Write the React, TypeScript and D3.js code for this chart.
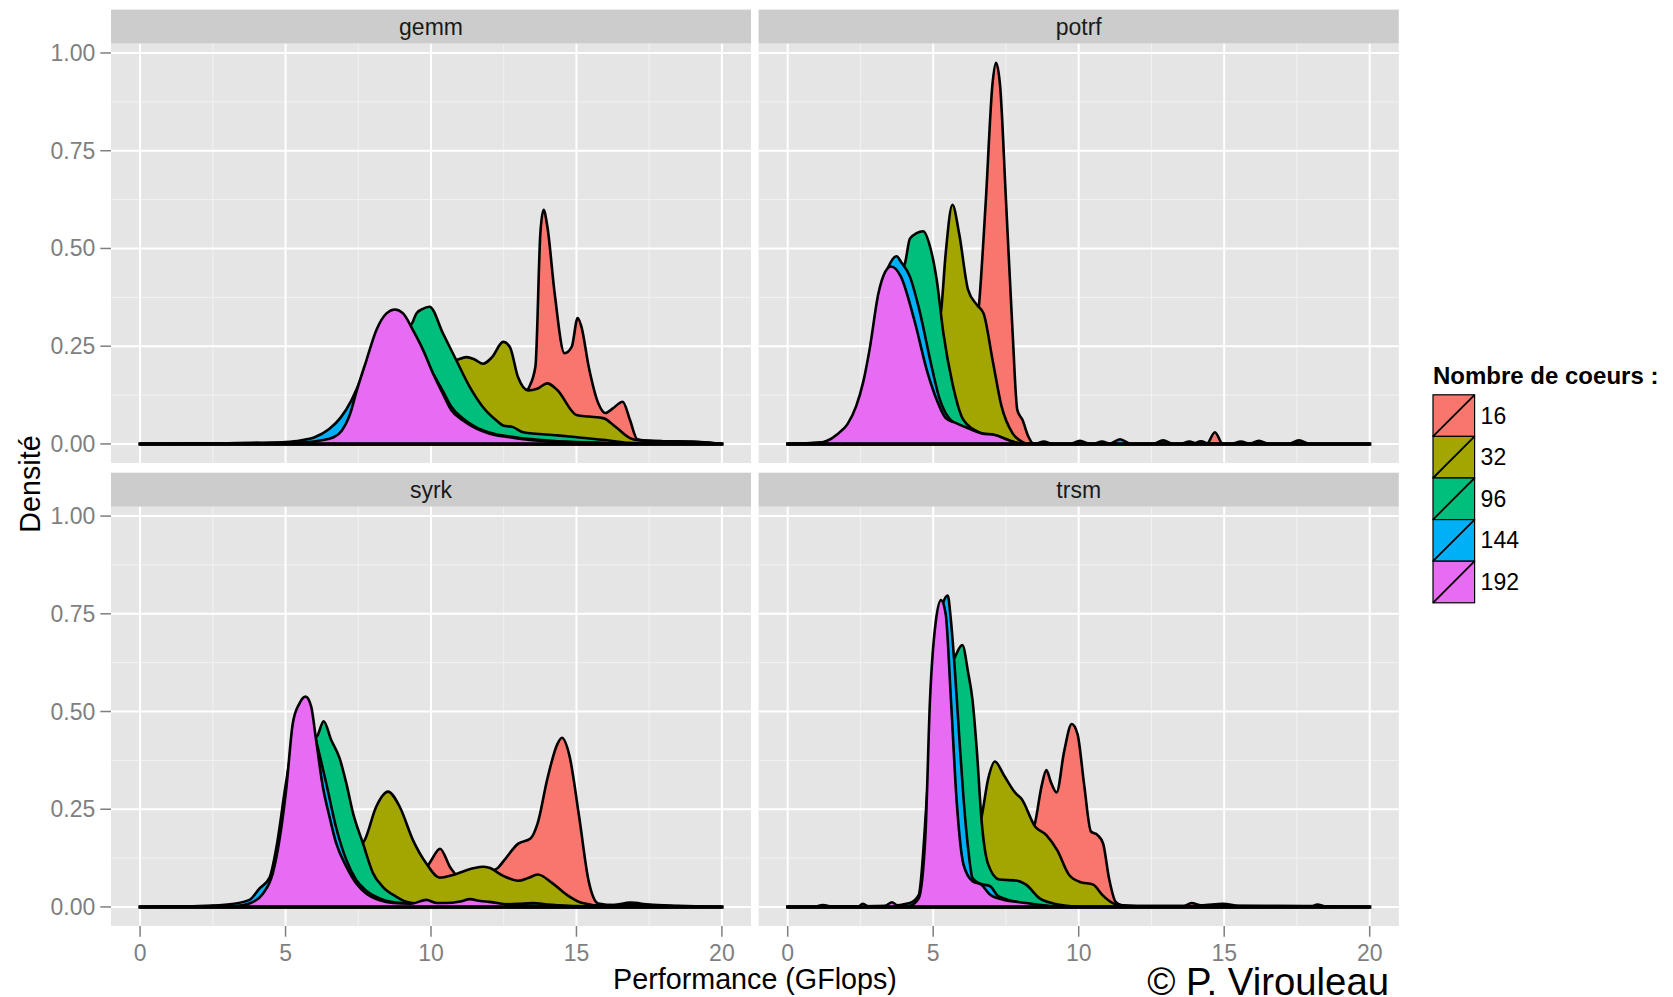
import React from 'react';
import * as d3 from 'd3';

type Pt = [number, number];

const cores = ['16', '32', '96', '144', '192'];
const fills = ['#F8766D', '#A3A500', '#00BF7D', '#00B0F6', '#E76BF3'];
const kernels = ['gemm', 'potrf', 'syrk', 'trsm'];
const xTicks = [0, 5, 10, 15, 20];
const xMinor = [2.5, 7.5, 12.5, 17.5];
const yTicks = [0, 0.25, 0.5, 0.75, 1];
const yMinor = [0.125, 0.375, 0.625, 0.875];
const yTickLabels = ['0.00', '0.25', '0.50', '0.75', '1.00'];

// densities, [GFlops, density]
const gemm16: Pt[] = [[0, 0], [9, 0.005], [10, 0.01], [11, 0.02], [12, 0.05], [13, 0.11], [13.34, 0.14], [13.59, 0.198], [13.76, 0.54], [13.87, 0.599], [14.0, 0.556], [14.25, 0.386], [14.59, 0.232], [14.84, 0.249], [15.04, 0.322], [15.17, 0.3], [15.42, 0.198], [15.75, 0.104], [16.0, 0.079], [16.25, 0.091], [16.59, 0.108], [16.84, 0.061], [17.09, 0.012], [17.5, 0.008], [18, 0.007], [19, 0.006], [19.6, 0.003], [20, 0]];
const gemm32: Pt[] = [[0, 0], [6, 0.003], [7, 0.015], [8, 0.06], [9, 0.12], [10, 0.175], [10.5, 0.2], [10.93, 0.216], [11.22, 0.222], [11.5, 0.216], [11.79, 0.205], [12.1, 0.222], [12.48, 0.261], [12.71, 0.248], [12.99, 0.171], [13.34, 0.137], [13.67, 0.142], [14.0, 0.155], [14.34, 0.138], [15.0, 0.074], [15.42, 0.07], [15.92, 0.066], [16.34, 0.044], [16.84, 0.015], [17.17, 0.009], [18, 0.007], [19, 0.005], [19.6, 0.003], [20, 0]];
const gemm96: Pt[] = [[0, 0], [5, 0.003], [6, 0.01], [7, 0.05], [7.5, 0.09], [8, 0.15], [8.5, 0.22], [9, 0.28], [9.36, 0.31], [9.5, 0.334], [9.7, 0.345], [9.95, 0.351], [10.41, 0.283], [10.87, 0.214], [11.33, 0.146], [11.79, 0.094], [12.25, 0.06], [12.48, 0.047], [12.82, 0.043], [13.17, 0.03], [14.34, 0.022], [15.17, 0.016], [16.0, 0.01], [16.8, 0.003], [18, 0.001], [20, 0]];
const gemm144: Pt[] = [[0, 0], [4, 0.002], [5, 0.005], [5.5, 0.009], [6, 0.017], [6.5, 0.038], [6.9, 0.068], [7.26, 0.111], [7.5, 0.15], [8, 0.24], [8.5, 0.32], [8.8, 0.34], [9.2, 0.31], [9.6, 0.252], [10, 0.19], [10.41, 0.135], [10.7, 0.095], [11.1, 0.065], [11.56, 0.042], [12, 0.029], [13, 0.016], [14, 0.009], [15, 0.005], [16, 0.002], [17, 0], [20, 0]];
const gemm192: Pt[] = [[0, 0], [3.8, 0], [4.0, 0.003], [4.3, 0], [5.0, 0.003], [5.8, 0.005], [6.2, 0.009], [6.65, 0.017], [6.93, 0.034], [7.22, 0.077], [7.45, 0.137], [7.78, 0.214], [8.12, 0.291], [8.47, 0.334], [8.76, 0.344], [9.04, 0.334], [9.38, 0.291], [9.73, 0.24], [10.07, 0.18], [10.41, 0.128], [10.7, 0.086], [11.1, 0.06], [11.56, 0.039], [12.02, 0.026], [12.7, 0.017], [13.4, 0.01], [14, 0.007], [15, 0.004], [16, 0.002], [17, 0], [20, 0]];

const potrf16: Pt[] = [[0, 0], [5, 0.005], [5.5, 0.03], [6, 0.1], [6.3, 0.2], [6.58, 0.36], [6.81, 0.625], [7.04, 0.923], [7.16, 0.975], [7.3, 0.915], [7.5, 0.625], [7.73, 0.283], [7.89, 0.087], [8.07, 0.061], [8.27, 0.019], [8.42, 0.002], [8.6, 0], [14.4, 0], [14.68, 0.03], [14.95, 0], [20, 0]];
const potrf32: Pt[] = [[0, 0], [3, 0.005], [3.5, 0.02], [4, 0.05], [4.5, 0.13], [5, 0.26], [5.27, 0.34], [5.43, 0.488], [5.66, 0.612], [5.89, 0.539], [6.2, 0.394], [6.5, 0.356], [6.73, 0.334], [7.04, 0.215], [7.35, 0.096], [7.73, 0.027], [8.04, 0.006], [8.3, 0], [15.85, 0], [16.19, 0.008], [16.55, 0], [17.2, 0], [17.57, 0.009], [17.95, 0], [20, 0]];
const potrf96: Pt[] = [[0, 0], [2, 0.01], [2.5, 0.05], [3, 0.18], [3.5, 0.33], [3.8, 0.42], [4.04, 0.465], [4.2, 0.525], [4.43, 0.539], [4.66, 0.544], [4.89, 0.505], [5.12, 0.42], [5.35, 0.283], [5.66, 0.155], [6.04, 0.061], [6.66, 0.027], [7.27, 0.015], [7.89, 0.003], [8.2, 0], [9.7, 0], [10.04, 0.008], [10.4, 0], [12.55, 0], [12.9, 0.009], [13.25, 0], [13.9, 0], [14.2, 0.007], [14.5, 0], [20, 0]];
const potrf144: Pt[] = [[0, 0], [1, 0.002], [1.5, 0.012], [2, 0.035], [2.4, 0.09], [2.8, 0.22], [3.12, 0.37], [3.43, 0.448], [3.74, 0.48], [3.9, 0.465], [4.2, 0.428], [4.5, 0.35], [4.97, 0.19], [5.2, 0.12], [5.43, 0.078], [5.73, 0.053], [6.2, 0.04], [6.66, 0.027], [7.12, 0.022], [7.58, 0.01], [7.9, 0.002], [8.1, 0], [8.5, 0], [8.8, 0.006], [9.1, 0], [11.05, 0], [11.42, 0.012], [11.8, 0], [15.25, 0], [15.57, 0.006], [15.9, 0], [20, 0]];
const potrf192: Pt[] = [[0, 0], [0.97, 0], [1.3, 0.006], [1.74, 0.027], [2.05, 0.05], [2.35, 0.096], [2.6, 0.16], [2.81, 0.24], [3.12, 0.386], [3.35, 0.44], [3.55, 0.454], [3.89, 0.428], [4.35, 0.317], [4.81, 0.181], [5.12, 0.113], [5.43, 0.066], [5.73, 0.055], [6.2, 0.04], [6.66, 0.027], [7.12, 0.023], [7.58, 0.01], [7.9, 0.002], [8.1, 0], [10.5, 0], [10.8, 0.006], [11.1, 0], [13.5, 0], [13.8, 0.006], [14.1, 0], [20, 0]];

const syrk16: Pt[] = [[0, 0], [6, 0.003], [7, 0.008], [8, 0.02], [9, 0.05], [9.5, 0.078], [9.84, 0.1], [10.0, 0.118], [10.31, 0.149], [10.67, 0.1], [11.0, 0.075], [11.5, 0.08], [12.0, 0.09], [12.3, 0.1], [12.5, 0.118], [13.0, 0.162], [13.42, 0.175], [13.67, 0.215], [14.0, 0.328], [14.34, 0.416], [14.5, 0.433], [14.75, 0.39], [15.09, 0.232], [15.42, 0.066], [15.75, 0.009], [16.3, 0.005], [16.84, 0.011], [17.5, 0.006], [18.5, 0.003], [20, 0]];
const syrk32: Pt[] = [[0, 0], [4, 0.003], [5, 0.01], [6, 0.03], [7, 0.1], [7.5, 0.15], [7.72, 0.171], [8.12, 0.257], [8.52, 0.295], [8.92, 0.257], [9.38, 0.171], [9.84, 0.111], [10.3, 0.075], [10.76, 0.082], [11.45, 0.099], [11.8, 0.103], [12.0, 0.1], [12.5, 0.079], [13.0, 0.067], [13.34, 0.074], [13.67, 0.083], [14.17, 0.061], [14.67, 0.031], [15.17, 0.011], [15.84, 0.004], [16.5, 0.005], [17, 0.006], [18, 0.003], [20, 0]];
const syrk96: Pt[] = [[0, 0], [3, 0.003], [4, 0.015], [4.5, 0.06], [5, 0.2], [5.5, 0.37], [5.9, 0.42], [6.11, 0.44], [6.31, 0.475], [6.57, 0.427], [6.86, 0.38], [7.09, 0.316], [7.32, 0.24], [7.66, 0.163], [8.01, 0.086], [8.35, 0.051], [8.81, 0.026], [9.15, 0.013], [9.5, 0.009], [10, 0.008], [11, 0.008], [12, 0.006], [13, 0.008], [13.5, 0.01], [14, 0.006], [15, 0.002], [16, 0], [20, 0]];
const syrk144: Pt[] = [[0, 0], [2, 0.002], [3, 0.006], [3.76, 0.018], [4.1, 0.047], [4.45, 0.075], [4.68, 0.15], [5.0, 0.31], [5.3, 0.44], [5.6, 0.49], [5.85, 0.48], [6.1, 0.41], [6.4, 0.316], [6.75, 0.2], [7.09, 0.12], [7.43, 0.069], [7.8, 0.04], [8.3, 0.02], [9, 0.01], [10, 0.008], [11, 0.006], [12, 0.004], [13, 0.003], [14, 0.002], [15, 0], [20, 0]];
const syrk192: Pt[] = [[0, 0], [2.3, 0], [2.5, 0.003], [2.8, 0.002], [3.0, 0.004], [3.3, 0.003], [3.76, 0.009], [4.22, 0.034], [4.56, 0.086], [4.79, 0.171], [5.02, 0.299], [5.25, 0.47], [5.48, 0.521], [5.69, 0.538], [5.88, 0.513], [6.05, 0.427], [6.28, 0.308], [6.51, 0.231], [6.74, 0.163], [7.09, 0.103], [7.43, 0.06], [7.78, 0.034], [8.24, 0.017], [8.7, 0.01], [9.3, 0.008], [9.84, 0.018], [10.2, 0.01], [10.5, 0.01], [11.0, 0.014], [11.34, 0.02], [11.7, 0.015], [12.0, 0.013], [12.67, 0.006], [13.5, 0.003], [15, 0], [20, 0]];

const trsm16: Pt[] = [[0, 0], [3.4, 0], [3.6, 0.01], [3.8, 0], [5, 0.005], [6, 0.01], [7, 0.02], [7.5, 0.05], [8.0, 0.1], [8.3, 0.17], [8.5, 0.215], [8.73, 0.311], [8.89, 0.35], [9.04, 0.32], [9.24, 0.293], [9.5, 0.398], [9.76, 0.468], [9.96, 0.442], [10.19, 0.311], [10.42, 0.193], [10.65, 0.184], [10.84, 0.162], [11.04, 0.074], [11.27, 0.013], [11.5, 0.004], [12, 0.002], [13.6, 0.002], [13.88, 0.01], [14.2, 0.004], [14.96, 0.008], [15.5, 0.003], [17, 0.002], [20, 0]];
const trsm32: Pt[] = [[0, 0], [0.9, 0], [1.2, 0.005], [1.6, 0], [4, 0.003], [5, 0.01], [5.5, 0.04], [6.0, 0.1], [6.4, 0.17], [6.66, 0.23], [6.89, 0.328], [7.12, 0.372], [7.43, 0.337], [7.81, 0.293], [8.04, 0.276], [8.5, 0.206], [8.89, 0.184], [9.27, 0.144], [9.66, 0.083], [10.04, 0.064], [10.5, 0.057], [10.81, 0.031], [11.19, 0.009], [11.42, 0.004], [12, 0.002], [18.0, 0.002], [18.2, 0.006], [18.5, 0.001], [20, 0]];
const trsm96: Pt[] = [[0, 0], [4, 0.003], [4.5, 0.02], [4.9, 0.15], [5.2, 0.4], [5.5, 0.6], [5.75, 0.64], [6.0, 0.67], [6.2, 0.6], [6.35, 0.53], [6.5, 0.4], [6.66, 0.223], [6.89, 0.109], [7.27, 0.07], [7.89, 0.067], [8.19, 0.057], [8.66, 0.022], [9.12, 0.009], [9.6, 0.003], [10, 0], [20, 0]];
const trsm144: Pt[] = [[0, 0], [3.5, 0.003], [4.2, 0.01], [4.5, 0.03], [4.8, 0.3], [5.1, 0.65], [5.35, 0.78], [5.5, 0.797], [5.6, 0.74], [5.75, 0.6], [5.9, 0.43], [6.04, 0.28], [6.2, 0.15], [6.35, 0.074], [6.6, 0.06], [6.96, 0.053], [7.2, 0.03], [7.43, 0.022], [7.9, 0.012], [8.3, 0.005], [9, 0], [20, 0]];
const trsm192: Pt[] = [[0, 0], [2.4, 0], [2.58, 0.008], [2.8, 0], [3.3, 0], [3.58, 0.012], [3.85, 0], [4.2, 0.003], [4.5, 0.022], [4.73, 0.18], [4.89, 0.53], [5.09, 0.731], [5.27, 0.785], [5.43, 0.749], [5.61, 0.53], [5.81, 0.267], [6.04, 0.109], [6.35, 0.066], [6.66, 0.057], [6.96, 0.031], [7.43, 0.018], [7.89, 0.013], [8.5, 0.007], [9.2, 0.002], [10, 0], [20, 0]];

const seriesByKernel: Record<string, Pt[][]> = {
  gemm: [gemm16, gemm32, gemm96, gemm144, gemm192],
  potrf: [potrf16, potrf32, potrf96, potrf144, potrf192],
  syrk: [syrk16, syrk32, syrk96, syrk144, syrk192],
  trsm: [trsm16, trsm32, trsm96, trsm144, trsm192],
};

const W = 1673;
const H = 997;
const font = '"Liberation Sans", Arial, Helvetica, sans-serif';
const cols = [[111, 751], [758.6, 1398.8]];
const rows = [
  { strip: 9.6, top: 43.7, bottom: 463 },
  { strip: 472.7, top: 506.8, bottom: 926 },
];
const tickLen = 10.7;

function Panel({ name, col, row }: { name: string; col: number; row: number }) {
  const [x0, x1] = cols[col];
  const r = rows[row];
  const x = d3.scaleLinear().domain([-1, 21]).range([x0, x1]);
  const y = d3.scaleLinear().domain([-0.04875, 1.02375]).range([r.bottom, r.top]);
  const area = d3
    .area<Pt>()
    .x(d => x(d[0]))
    .y0(y(0))
    .y1(d => y(d[1]))
    .curve(d3.curveMonotoneX);

  return (
    <g>
      <rect x={x0} y={r.strip} width={x1 - x0} height={r.top - r.strip} fill="#CCCCCC" />
      <text x={(x0 + x1) / 2} y={(r.strip + r.top) / 2 + 8} textAnchor="middle" fontSize={23} fill="#1A1A1A">
        {name}
      </text>
      <rect x={x0} y={r.top} width={x1 - x0} height={r.bottom - r.top} fill="#E5E5E5" />
      {xMinor.map(t => (
        <line key={'xm' + t} x1={x(t)} x2={x(t)} y1={r.top} y2={r.bottom} stroke="#F2F2F2" strokeWidth={1} />
      ))}
      {yMinor.map(t => (
        <line key={'ym' + t} x1={x0} x2={x1} y1={y(t)} y2={y(t)} stroke="#F2F2F2" strokeWidth={1} />
      ))}
      {xTicks.map(t => (
        <line key={'x' + t} x1={x(t)} x2={x(t)} y1={r.top} y2={r.bottom} stroke="#FFFFFF" strokeWidth={2} />
      ))}
      {yTicks.map(t => (
        <line key={'y' + t} x1={x0} x2={x1} y1={y(t)} y2={y(t)} stroke="#FFFFFF" strokeWidth={2} />
      ))}
      {seriesByKernel[name].map((s, i) => (
        <path
          key={cores[i]}
          d={area(s) || ''}
          fill={fills[i]}
          stroke="#000000"
          strokeWidth={2.6}
          strokeLinejoin="round"
        />
      ))}
      <line x1={x(0)} x2={x(20)} y1={y(0)} y2={y(0)} stroke="#000000" strokeWidth={3.4} strokeLinecap="square" />
      {col === 0 &&
        yTicks.map((t, i) => (
          <g key={'yt' + t}>
            <line x1={x0 - tickLen} x2={x0} y1={y(t)} y2={y(t)} stroke="#7F7F7F" strokeWidth={1.5} />
            <text x={x0 - tickLen - 5} y={y(t) + 8} textAnchor="end" fontSize={23} fill="#7F7F7F">
              {yTickLabels[i]}
            </text>
          </g>
        ))}
      {row === 1 &&
        xTicks.map(t => (
          <g key={'xt' + t}>
            <line x1={x(t)} x2={x(t)} y1={r.bottom} y2={r.bottom + tickLen} stroke="#7F7F7F" strokeWidth={1.5} />
            <text x={x(t)} y={961} textAnchor="middle" fontSize={23} fill="#7F7F7F">
              {t}
            </text>
          </g>
        ))}
    </g>
  );
}

export default function App() {
  const keySize = 41.6;
  const keyX = 1433;
  const keyY = 394.8;
  return (
    <div style={{ position: 'absolute', left: 0, top: 0 }}>
      <svg width={W} height={H} style={{ display: 'block', background: '#FFFFFF', fontFamily: font }}>
        {kernels.map((k, i) => (
          <Panel key={k} name={k} col={i % 2} row={Math.floor(i / 2)} />
        ))}

        <text x={755} y={989} textAnchor="middle" fontSize={28.7} fill="#000000">
          Performance (GFlops)
        </text>
        <text x={39.5} y={484} transform="rotate(-90 39.5 484)" textAnchor="middle" fontSize={28.7} fill="#000000">
          Densité
        </text>
        <text x={1389} y={995} textAnchor="end" fontSize={38.3} fill="#000000">
          © P. Virouleau
        </text>

        <text x={keyX} y={384} fontSize={24} fontWeight="bold" fill="#000000">
          Nombre de coeurs :
        </text>
        {cores.map((c, i) => {
          const top = keyY + i * keySize;
          return (
            <g key={c}>
              <rect x={keyX} y={top} width={keySize} height={keySize} fill={fills[i]} stroke="#000000" strokeWidth={1.2} />
              <line x1={keyX} y1={top + keySize} x2={keyX + keySize} y2={top} stroke="#000000" strokeWidth={1.8} />
              <text x={keyX + keySize + 6} y={top + keySize / 2 + 8} fontSize={23} fill="#000000">
                {c}
              </text>
            </g>
          );
        })}
      </svg>
    </div>
  );
}
